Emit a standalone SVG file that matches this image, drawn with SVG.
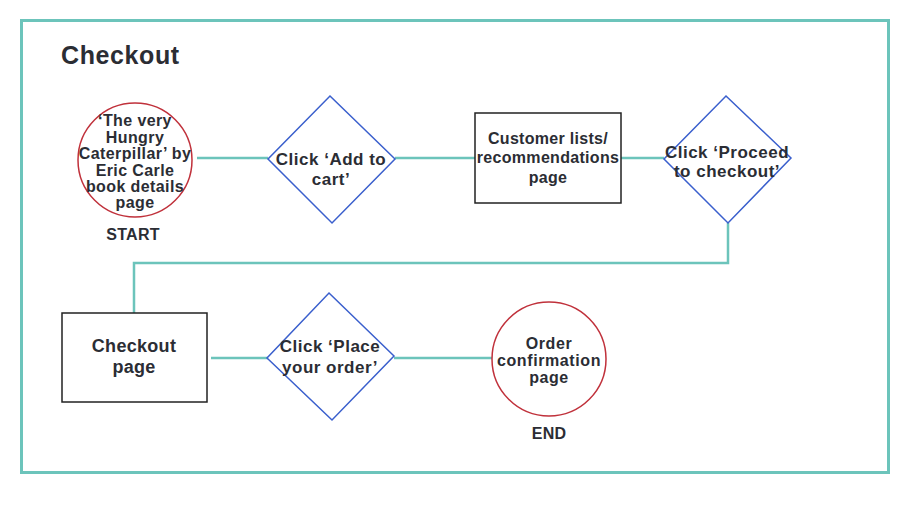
<svg xmlns="http://www.w3.org/2000/svg" width="915" height="508" viewBox="0 0 915 508">
<style>
text{font-family:"Liberation Sans",Arial,sans-serif;font-weight:bold;fill:#2b2d34;text-anchor:middle}
.c1{font-size:16px;letter-spacing:0.4px}
.d{font-size:17px;letter-spacing:0.5px}
.b{font-size:16px;letter-spacing:0.3px}
.b2{font-size:18px;letter-spacing:0.3px}
.e{font-size:16px;letter-spacing:0.6px}
.lbl{font-size:16px;letter-spacing:0.3px}
.circ{fill:#fff;stroke:#c0313b;stroke-width:1.5}
.dia{fill:#fff;stroke:#3a5fcd;stroke-width:1.5}
.box{fill:#fff;stroke:#222;stroke-width:1.5}
.con{fill:none;stroke:#6cc4bb;stroke-width:2.5}
</style>
<rect x="0" y="0" width="915" height="508" fill="#fff"/>
<rect x="21.5" y="20.5" width="867" height="452" fill="none" stroke="#6cc4bb" stroke-width="3"/>
<text x="61" y="64" style="font-size:25px;letter-spacing:0.6px;text-anchor:start">Checkout</text>
<g id="connectors">
<line class="con" x1="197" y1="158" x2="268" y2="158"/>
<line class="con" x1="395" y1="158" x2="475" y2="158"/>
<line class="con" x1="621" y1="158" x2="664" y2="158"/>
<polyline class="con" points="728,223 728,263 134,263 134,313"/>
<line class="con" x1="211" y1="358" x2="268" y2="358"/>
<line class="con" x1="394" y1="358" x2="492" y2="358"/>
</g>
<g id="start">
<circle class="circ" cx="135" cy="160" r="57"/>
<text class="c1" x="135" y="126">‘The very</text>
<text class="c1" x="135" y="143">Hungry</text>
<text class="c1" x="135" y="159">Caterpillar’ by</text>
<text class="c1" x="135" y="176">Eric Carle</text>
<text class="c1" x="135" y="192">book details</text>
<text class="c1" x="135" y="208">page</text>
<text class="lbl" x="133" y="240">START</text>
</g>
<g id="add-to-cart">
<polygon class="dia" points="330,96 395,159 332,223 268,159"/>
<text class="d" x="331" y="165">Click ‘Add to</text>
<text class="d" x="331" y="185">cart’</text>
</g>
<g id="customer-lists">
<rect class="box" x="475" y="113" width="146" height="90"/>
<text class="b" x="548" y="144">Customer lists/</text>
<text class="b" x="548" y="163">recommendations</text>
<text class="b" x="548" y="183">page</text>
</g>
<g id="proceed">
<polygon class="dia" points="726,96 791,158 728,223 664,159"/>
<text class="d" x="727" y="158">Click ‘Proceed</text>
<text class="d" x="727" y="177">to checkout’</text>
</g>
<g id="checkout-page">
<rect class="box" x="62" y="313" width="145" height="89"/>
<text class="b2" x="134" y="352">Checkout</text>
<text class="b2" x="134" y="373">page</text>
</g>
<g id="place-order">
<polygon class="dia" points="329,293 394,356 332,420 267,358"/>
<text class="d" x="330" y="352">Click ‘Place</text>
<text class="d" x="330" y="373">your order’</text>
</g>
<g id="end">
<circle class="circ" cx="549" cy="359" r="57"/>
<text class="e" x="549" y="349">Order</text>
<text class="e" x="549" y="366">confirmation</text>
<text class="e" x="549" y="383">page</text>
<text class="lbl" x="549" y="439">END</text>
</g>
</svg>
